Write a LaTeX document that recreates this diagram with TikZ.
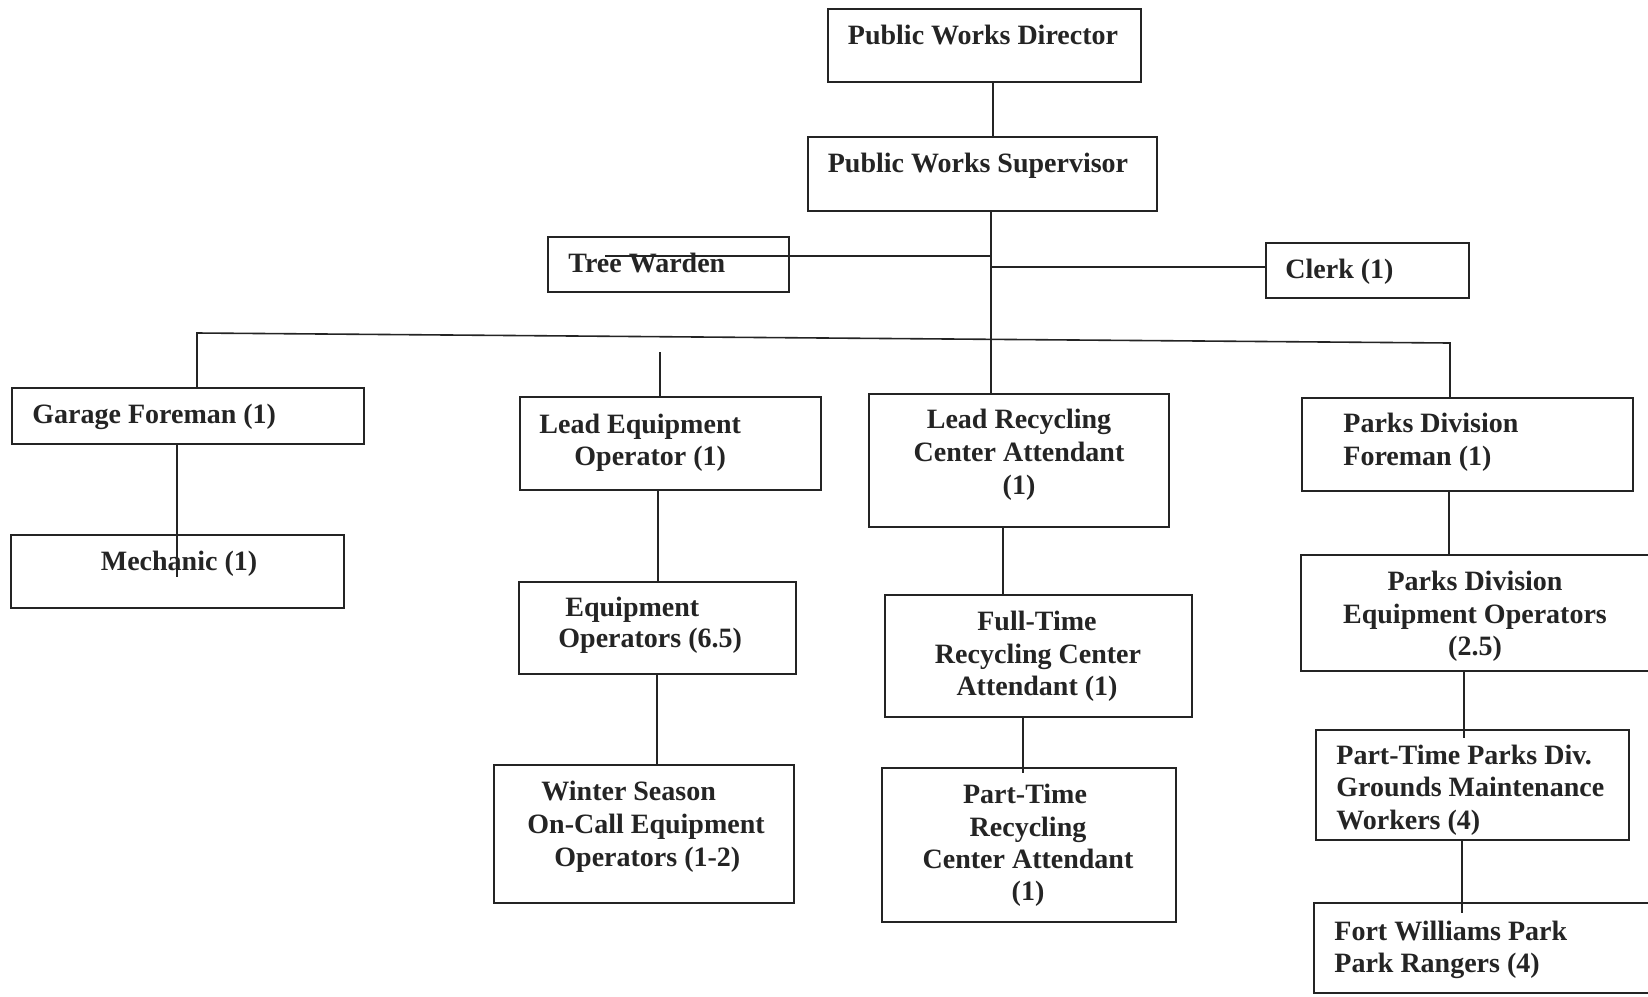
\documentclass[tikz,border=0pt]{standalone}
\usepackage{fontspec}
\setmainfont{Liberation Serif}
\definecolor{ink}{HTML}{242424}
\newcommand{\mkbox}[5]{\node[boxst, minimum width={(#4-#2)*0.5pt}, minimum height={(#5-#3)*0.5pt}] (#1) at ({(#2+#4)/2},{(#3+#5)/2}) {};}
\begin{document}
\begin{tikzpicture}[x=0.5pt,y=-0.5pt,
  boxst/.style={draw=ink, line width=1pt, inner sep=0pt},
  txt/.style={inner sep=0pt, font=\fontsize{14}{16.5}\selectfont\bfseries, text=ink},
  link/.style={draw=ink, line width=0.8pt}]
\clip (0,0) rectangle (1648,996);
\fill[white] (0,0) rectangle (1648,996);
% boxes
\mkbox{dir}{828}{9}{1141}{82}
\mkbox{sup}{808}{137}{1157}{211}
\mkbox{tw}{548}{237}{789}{292}
\mkbox{clk}{1266}{243}{1469}{298}
\mkbox{gar}{12}{388}{364}{444}
\mkbox{mec}{11}{535}{344}{608}
\mkbox{leo}{520}{397}{821}{490}
\mkbox{lrc}{869}{394}{1169}{527}
\mkbox{pfm}{1302}{398}{1633}{491}
\mkbox{eqo}{519}{582}{796}{674}
\mkbox{ftr}{885}{595}{1192}{717}
\mkbox{peo}{1301}{555}{1670}{671}
\mkbox{win}{494}{765}{794}{903}
\mkbox{ptr}{882}{768}{1176}{922}
\mkbox{ptp}{1316}{730}{1629}{840}
\mkbox{fwp}{1314}{903}{1670}{993}
% texts
\node[txt, anchor=base] (tdir) at (983,44) {Public Works Director};
\node[txt, anchor=base] (tsup) at (978,172) {Public Works Supervisor};
\node[txt, anchor=base west] (ttw) at (568,272) {Tree Warden};
\node[txt, anchor=base west] (tclk) at (1285,278) {Clerk (1)};
\node[txt, anchor=base west] (tgar) at (32,423) {Garage Foreman (1)};
\node[txt, anchor=base] (tmec) at (179,570) {Mechanic (1)};
\node[txt, anchor=base west] (tleoa) at (539,433) {Lead Equipment};
\node[txt, anchor=base west] (tleob) at (574,465) {Operator (1)};
\node[txt, anchor=base] (tlrca) at (1019,428) {Lead Recycling};
\node[txt, anchor=base] (tlrcb) at (1019,461) {Center Attendant};
\node[txt, anchor=base] (tlrcc) at (1019,494) {(1)};
\node[txt, anchor=base west] (tpfma) at (1343,432) {Parks Division};
\node[txt, anchor=base west] (tpfmb) at (1343,465) {Foreman (1)};
\node[txt, anchor=base west] (teqoa) at (565,616) {Equipment};
\node[txt, anchor=base west] (teqob) at (558,647) {Operators (6.5)};
\node[txt, anchor=base] (tftra) at (1037,630) {Full-Time};
\node[txt, anchor=base] (tftrb) at (1038,663) {Recycling Center};
\node[txt, anchor=base] (tftrc) at (1037,695) {Attendant (1)};
\node[txt, anchor=base] (tpeoa) at (1475,590) {Parks Division};
\node[txt, anchor=base] (tpeob) at (1475,623) {Equipment Operators};
\node[txt, anchor=base] (tpeoc) at (1475,655) {(2.5)};
\node[txt, anchor=base west] (twina) at (541,800) {Winter Season};
\node[txt, anchor=base west] (twinb) at (527,833) {On-Call Equipment};
\node[txt, anchor=base west] (twinc) at (554,866) {Operators (1-2)};
\node[txt, anchor=base] (tptra) at (1025,803) {Part-Time};
\node[txt, anchor=base] (tptrb) at (1028,836) {Recycling};
\node[txt, anchor=base] (tptrc) at (1028,868) {Center Attendant};
\node[txt, anchor=base] (tptrd) at (1028,900) {(1)};
\node[txt, anchor=base west] (tptpa) at (1336,764) {Part-Time Parks Div.};
\node[txt, anchor=base west] (tptpb) at (1336,796) {Grounds Maintenance};
\node[txt, anchor=base west] (tptpc) at (1336,829) {Workers (4)};
\node[txt, anchor=base west] (tfwpa) at (1334,940) {Fort Williams Park};
\node[txt, anchor=base west] (tfwpb) at (1334,972) {Park Rangers (4)};
% connector coordinates
\coordinate (xa) at (993,0);
\coordinate (xb) at (991,0);
\coordinate (twe) at (605,256);
\coordinate (clkj) at (991,267);
\coordinate (busL) at (197,333);
\coordinate (busR) at (1450,343);
\coordinate (stubT) at (660,352);
\coordinate (mecE) at (177,577);
\coordinate (xc) at (658,0);
\coordinate (xd) at (657,0);
\coordinate (xe) at (1003,0);
\coordinate (ptrE) at (1023,773);
\coordinate (xf) at (1449,0);
\coordinate (ptpE) at (1464,738);
\coordinate (fwpE) at (1462,913);
% connectors
\draw[link] (xa |- dir.south) -- (xa |- sup.north);
\draw[link] (xb |- sup.south) -- (xb |- lrc.north);
\draw[link] (twe) -- (twe -| xb);
\draw[link] (clkj) -- (clkj -| clk.west);
\draw[link] (busL |- gar.north) -- (busL) -- (busR) -- (busR |- pfm.north);
\draw[link] (stubT) -- (stubT |- leo.north);
\draw[link] (mecE |- gar.south) -- (mecE);
\draw[link] (xc |- leo.south) -- (xc |- eqo.north);
\draw[link] (xd |- eqo.south) -- (xd |- win.north);
\draw[link] (xe |- lrc.south) -- (xe |- ftr.north);
\draw[link] (ptrE |- ftr.south) -- (ptrE);
\draw[link] (xf |- pfm.south) -- (xf |- peo.north);
\draw[link] (ptpE |- peo.south) -- (ptpE);
\draw[link] (fwpE |- ptp.south) -- (fwpE);
\end{tikzpicture}
\end{document}
